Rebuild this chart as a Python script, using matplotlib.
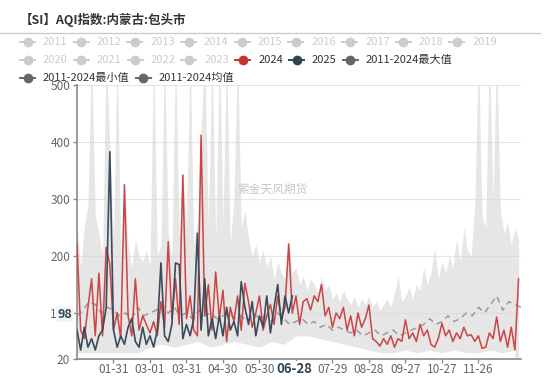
import matplotlib
matplotlib.use('Agg')
import matplotlib.pyplot as plt
import numpy as np
import pandas as pd
from matplotlib.lines import Line2D
from matplotlib.transforms import blended_transform_factory

plt.rcParams['font.family'] = ['Noto Sans CJK SC', 'DejaVu Sans']

# daily AQI, one value every 3 days from Jan 1
aqi_2024 = [
    222, 70, 55, 110, 160, 60, 170, 60, 215, 185,
    70, 100, 55, 325, 95, 60, 160, 70, 95, 80,
    65, 85, 60, 120, 75, 225, 90, 160, 80, 342,
    90, 130, 70, 60, 412, 95, 150, 70, 172, 90,
    140, 50, 110, 85, 130, 70, 152, 120, 75, 100,
    130, 70, 95, 115, 80, 130, 90, 110, 221, 100,
    130, 80, 120, 125, 105, 130, 120, 150, 95, 110,
    75, 100, 90, 110, 70, 95, 60, 100, 75, 90,
    114, 55, 50, 42, 55, 45, 60, 40, 55, 50,
    88, 55, 65, 50, 80, 60, 70, 45, 40, 55,
    82, 60, 70, 50, 65, 55, 75, 60, 62, 50,
    60, 38, 40, 65, 55, 93, 50, 70, 40, 75,
    35, 160,
]
aqi_2025 = [
    70, 35, 75, 40, 55, 35, 60, 70, 110, 383,
    70, 40, 60, 45, 75, 90, 50, 40, 75, 45,
    60, 40, 70, 188, 60, 50, 80, 188, 185, 55,
    80, 60, 90, 240, 70, 160, 60, 90, 55, 95,
    60, 110, 70, 85, 60, 155, 110, 80, 120, 60,
    95, 75, 130, 65, 110, 150, 80, 130, 100, 130,
]
# 2011-2024 max (every 3 days), min (every 10 days), mean (every 5 days)
band_max = [
    260, 180, 250, 290, 560, 270, 240, 200, 560, 390,
    230, 560, 200, 330, 220, 180, 230, 200, 190, 210,
    180, 560, 200, 220, 560, 240, 200, 560, 230, 350,
    250, 560, 220, 260, 420, 560, 250, 560, 230, 560,
    260, 560, 220, 300, 560, 250, 280, 230, 200, 220,
    190, 210, 180, 200, 160, 190, 170, 160, 230, 170,
    180, 150, 165, 140, 160, 150, 135, 165, 140, 150,
    125, 135, 120, 140, 125, 115, 130, 110, 125, 115,
    130, 110, 120, 105, 115, 125, 110, 135, 165, 120,
    130, 145, 125, 150, 140, 180, 150, 170, 215, 160,
    190, 170, 200, 180, 230, 190, 250, 210, 200, 290,
    560, 270, 250, 560, 300, 560, 280, 240, 260, 220,
    250, 230,
]
band_min = [
    30, 30, 30, 30, 30, 30, 40, 45, 40, 45,
    50, 40, 45, 50, 45, 40, 50, 45, 60, 60,
    55, 50, 45, 40, 35, 30, 30, 35, 30, 35,
    30, 35, 30, 30, 35, 30, 35,
]
band_mean = [
    95, 105, 120, 115, 100, 110, 105, 95, 100, 90,
    110, 95, 100, 105, 115, 100, 110, 95, 100, 90,
    105, 95, 100, 90, 95, 100, 90, 95, 85, 100,
    90, 95, 85, 100, 90, 80, 85, 90, 80, 85,
    75, 80, 70, 75, 70, 65, 70, 60, 65, 70,
    60, 65, 70, 60, 65, 70, 75, 80, 90, 80,
    85, 95, 85, 90, 100, 95, 110, 100, 115, 130,
    105, 120, 115, 110,
]
y_ticks = [20, 100, 200, 300, 400, 500]
pointer_day = 179
pointer_value = 98

legend_rows = [
    (42, [(str(y), '#cccccc', '#cccccc') for y in range(2011, 2020)]),
    (60, [(str(y), '#cccccc', '#cccccc') for y in range(2020, 2024)]
     + [('2024', '#c23531', '#333333'), ('2025', '#2f4554', '#333333'),
        ('2011-2024最大值', '#666666', '#333333')]),
    (78, [('2011-2024最小值', '#666666', '#333333'),
          ('2011-2024均值', '#666666', '#333333')]),
]

W, H = 550, 378
fig = plt.figure(figsize=(W / 100, H / 100), dpi=100)
ax = fig.add_axes([77 / W, 1 - 358.6 / H, 444 / W, (358.6 - 85) / H])

d24 = np.arange(len(aqi_2024)) * 3
d25 = np.arange(len(aqi_2025)) * 3
dmax = np.arange(len(band_max)) * 3
dmin = np.arange(len(band_min)) * 10
dmean = np.arange(len(band_mean)) * 5

ax.fill_between(dmax, 20, band_max, color='#d6d6d6', alpha=0.6, lw=0, zorder=1)
ax.fill_between(dmin, 20, band_min, color='white', lw=0, zorder=1.2)
ax.plot(dmean, band_mean, color='#9a9a9a', lw=1.1, dashes=(4, 3), zorder=2)
ax.plot(d24, aqi_2024, color='#cc4444', lw=1.1, zorder=3)
ax.plot(d25, aqi_2025, color='#3b4b5c', lw=1.2, zorder=4)

ax.set_xlim(0, 365)
ax.set_ylim(20, 500)
ax.set_yticks(y_ticks)
dates = pd.date_range('2024-01-01', periods=366)
xt = list(range(30, 331, 30))
ax.set_xticks(xt)
ax.set_xticklabels([dates[i].strftime('%m-%d') for i in xt])
ax.tick_params(colors='#8a8a8a', labelcolor='#666666', labelsize=8.5, length=3, width=1)
ax.tick_params(axis='x', pad=0.5)
ax.tick_params(axis='y', pad=2)
ax.yaxis.grid(True, color='#e6e6e6', lw=0.8)
ax.set_axisbelow(True)
for s in ['top', 'right']:
    ax.spines[s].set_visible(False)
for s in ['left', 'bottom']:
    ax.spines[s].set_color('#8a8a8a')
    ax.spines[s].set_linewidth(1.2)

# axis pointer labels
ax.annotate('06-28', xy=(pointer_day, 0), xycoords=('data', 'axes fraction'),
            xytext=(0, -2.5), textcoords='offset points', ha='center', va='top',
            fontsize=9.5, fontweight='bold', color='#2f4554', zorder=10,
            bbox=dict(fc='white', ec='none', pad=1.0))
ax.text(-0.01, pointer_value, '98', transform=blended_transform_factory(ax.transAxes, ax.transData),
        ha='right', va='center', fontsize=9, fontweight='bold', color='#2f4554', zorder=10,
        bbox=dict(fc='#f4f4f4', ec='none', pad=1))

# watermark
ax.text(0.44, 0.62, '紫金天风期货', transform=ax.transAxes, fontsize=8.5,
        color='#c8c8c8', ha='center', va='center', zorder=5)

# title
fig.text(20 / W, 1 - 20 / H, '【SI】AQI指数:内蒙古:包头市', fontsize=9, fontweight='bold',
         color='#333333', va='center')
fig.add_artist(Line2D([0, 540 / W], [1 - 33 / H, 1 - 33 / H], color='#cccccc', lw=1))

# legend
renderer = fig.canvas.get_renderer()
for row_y, items in legend_rows:
    x = 20
    y = 1 - row_y / H
    for label, icon_color, text_color in items:
        fig.add_artist(Line2D([x / W, (x + 15) / W], [y, y], color=icon_color, lw=1.4))
        fig.add_artist(Line2D([(x + 7.5) / W], [y], marker='o', ms=6, color=icon_color, lw=0))
        t = fig.text((x + 23) / W, y, label, color=text_color, fontsize=8, va='center')
        x += 23 + t.get_window_extent(renderer).width + 6

fig.savefig('out.png', dpi=100)
